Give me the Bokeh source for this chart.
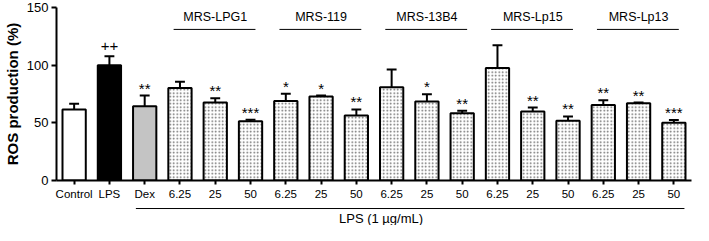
from bokeh.plotting import figure
from bokeh.models import Range1d, FixedTicker, ColumnDataSource
from bokeh.embed import file_html
from bokeh.resources import INLINE
from bokeh.core.properties import value

# ---- data ----
tick_labels = ["Control", "LPS", "Dex",
               "6.25", "25", "50", "6.25", "25", "50", "6.25", "25", "50",
               "6.25", "25", "50", "6.25", "25", "50"]
ros_mean = [61.6, 100.0, 64.3, 80.2, 67.6, 51.3, 69.0, 72.8, 56.3,
            80.8, 68.4, 58.3, 97.5, 59.9, 51.9, 65.4, 67.0, 50.0]
ros_err = [4.9, 7.7, 9.3, 5.5, 3.8, 1.4, 6.3, 0.8, 5.3,
           15.4, 6.3, 2.1, 19.8, 3.3, 3.6, 4.1, 0.6, 2.5]
signif = ["", "++", "**", "", "**", "***", "*", "*", "**",
          "", "*", "**", "", "**", "**", "**", "**", "***"]
groups = ["MRS-LPG1", "MRS-119", "MRS-13B4", "MRS-Lp15", "MRS-Lp13"]
group_first = [3, 6, 9, 12, 15]
group_last = [5, 8, 11, 14, 17]
treatment_label = "LPS (1 µg/mL)"
treatment_first = 2

FONT = "Liberation Sans"
n = len(tick_labels)
idx = list(range(n))

fills = ["white", "black", "#c4c4c4"] + ["white"] * (n - 3)
hatches = [" ", " ", " "] + ["dot"] * (n - 3)
upper = [m + e for m, e in zip(ros_mean, ros_err)]

p = figure(width=693, height=225, output_backend="svg", toolbar_location=None,
           x_range=Range1d(-0.5, n - 0.5), y_range=Range1d(0, 150),
           min_border_left=50, min_border_right=2, min_border_top=7,
           min_border_bottom=45)
p.outline_line_color = None
p.xgrid.visible = False
p.ygrid.visible = False
p.background_fill_color = "white"

# whiskers (upper only) + caps
p.segment(x0=idx, y0=ros_mean, x1=idx, y1=upper, line_color="black", line_width=2)
p.segment(x0=[i - 0.14 for i in idx], y0=upper, x1=[i + 0.14 for i in idx], y1=upper,
          line_color="black", line_width=2)

src = ColumnDataSource(dict(x=idx, top=ros_mean, fill=fills, hatch=hatches))
p.vbar(x="x", top="top", width=0.66, source=src, fill_color="fill",
       line_color="black", line_width=2, hatch_pattern="hatch",
       hatch_color="#666666", hatch_scale=3.5, hatch_weight=1)

# significance marks
sig_y = [u + (9.0 if s.startswith("+") else 6.5) for u, s in zip(upper, signif)]
p.text(x=idx, y=sig_y, text=signif, text_align="center", text_baseline="alphabetic",
       text_font=value(FONT), text_font_size="15px", text_color="black")

# group headers
gx0 = [f - 0.18 for f in group_first]
gx1 = [l + 0.14 for l in group_last]
gy = [131] * len(groups)
p.segment(x0=gx0, y0=gy, x1=gx1, y1=gy, line_color="black", line_width=1)
p.text(x=[(f + l) / 2 for f, l in zip(group_first, group_last)], y=[142] * len(groups),
       text=groups, text_align="center", text_baseline="middle",
       text_font=value(FONT), text_font_size="12.5px", text_color="black")

# treatment bracket below the axis
p.line(x=[treatment_first - 0.25, n - 1 + 0.3], y=[-24.3, -24.3],
       line_color="black", line_width=1, level="overlay")
p.text(x=[8.7], y=[-33], text=[treatment_label], text_align="center",
       text_baseline="middle", text_font=value(FONT), text_font_size="13px",
       text_color="black", level="overlay")

# axes
xa = p.xaxis[0]
xa.ticker = FixedTicker(ticks=idx)
xa.major_label_overrides = {i: t for i, t in enumerate(tick_labels)}
xa.major_tick_in = 0
xa.major_tick_out = 4
xa.minor_tick_line_color = None
xa.axis_line_width = 2
xa.major_tick_line_width = 2
xa.major_label_standoff = 3
xa.major_label_text_font = FONT
xa.major_label_text_font_size = "11.5px"
xa.major_label_text_color = "black"

ya = p.yaxis[0]
ya.ticker = FixedTicker(ticks=[0, 50, 100, 150])
ya.major_tick_in = 0
ya.major_tick_out = 5
ya.minor_tick_line_color = None
ya.axis_line_width = 2
ya.major_tick_line_width = 2
ya.major_label_standoff = 3
ya.major_label_text_font = FONT
ya.major_label_text_font_size = "13px"
ya.major_label_text_color = "black"
ya.axis_label = "ROS production (%)"
ya.axis_label_text_font = FONT
ya.axis_label_text_font_style = "bold"
ya.axis_label_text_font_size = "15px"
ya.axis_label_text_color = "black"
ya.axis_label_standoff = 3

open("out.html", "w").write(file_html(p, INLINE))
